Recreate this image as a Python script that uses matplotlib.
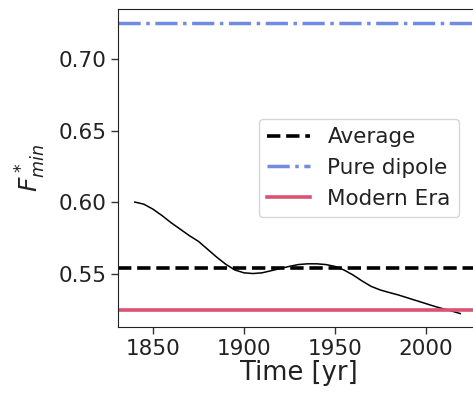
import matplotlib
matplotlib.use("Agg")
import matplotlib.pyplot as plt
import numpy as np

# F*_min time series
years = [1840, 1845, 1850, 1855, 1860, 1865, 1870, 1875, 1880, 1885, 1890, 1895,
         1900, 1905, 1910, 1915, 1920, 1925, 1930, 1935, 1940, 1945, 1950,
         1955, 1960, 1965, 1970, 1975, 1980, 1985, 1990, 1995, 2000, 2005,
         2010, 2015, 2019]
fmin = [0.600, 0.5985, 0.595, 0.5905, 0.5855, 0.581, 0.5765, 0.5725, 0.567, 0.5615,
        0.5565, 0.5525, 0.5505, 0.550, 0.5505, 0.552, 0.5535, 0.555, 0.5563, 0.5568,
        0.5568, 0.5563, 0.555, 0.5525, 0.549, 0.5448, 0.541, 0.5385, 0.5367, 0.535,
        0.533, 0.531, 0.529, 0.527, 0.5252, 0.5235, 0.522]

# reference levels
average_level = 0.5542
dipole_level = 0.725
modern_level = 0.5243

xticks = [1850, 1900, 1950, 2000]
yticks = [0.55, 0.60, 0.65, 0.70]

text_color = "#222222"

fig = plt.figure(figsize=(4.73, 4.00), dpi=100)
ax = fig.add_axes([0.2505, 0.1825, 0.761, 0.7955])

ax.plot(years, fmin, color="black", lw=1.1)
ax.axhline(average_level, color="black", ls="--", lw=2.6, label="Average")
ax.axhline(dipole_level, color="#6f8ce0", ls="-.", lw=2.5, label="Pure dipole")
ax.axhline(modern_level, color="#dc5274", ls="-", lw=2.6, label="Modern Era")

ax.set_xlim(1831, 2029)
ax.set_ylim(0.5126, 0.7352)
ax.set_xticks(xticks)
ax.set_yticks(yticks)
ax.set_yticklabels([f"{v:.2f}" for v in yticks])
ax.tick_params(labelsize=15.5, length=5, width=1, labelcolor=text_color, color="#333333")
for s in ax.spines.values():
    s.set_color("#222222")

ax.set_xlabel("Time [yr]", fontsize=18.5, labelpad=1, color=text_color)
ax.set_ylabel("$F^*_{min}$", fontsize=18, labelpad=8, color=text_color)

leg = ax.legend(loc="center right", fontsize=15.5, handlelength=2.0,
                bbox_to_anchor=(0.965, 0.5), borderaxespad=0.3)
for t in leg.get_texts():
    t.set_color(text_color)

fig.savefig("out.png", dpi=100)
